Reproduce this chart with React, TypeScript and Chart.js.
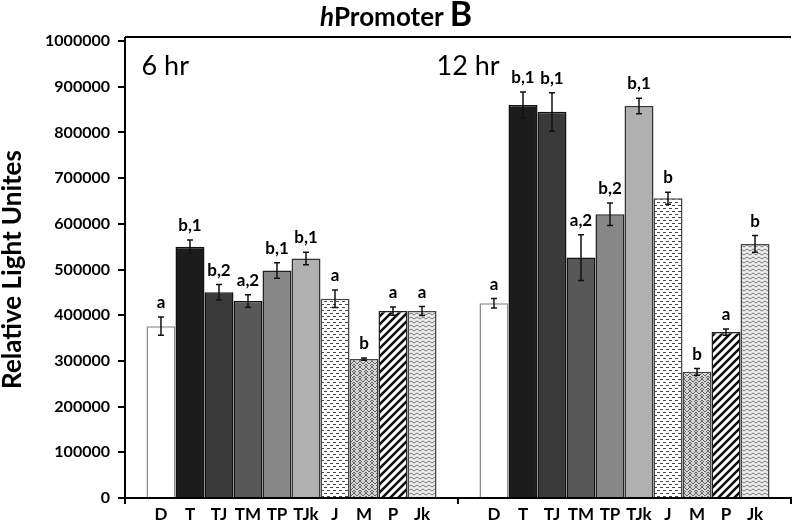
import React, { useEffect, useRef } from "react";
import { Chart, registerables } from "chart.js";

Chart.register(...registerables);

const categories = ["6 hr", "12 hr"];
const treatments = ["D", "T", "TJ", "TM", "TP", "TJk", "J", "M", "P", "Jk"];
const values6 = [376000, 550000, 450000, 431000, 498000, 524000, 436000, 304000, 409000, 409000];
const values12 = [426000, 860000, 845000, 526000, 621000, 858000, 656000, 276000, 363000, 556000];
const err6 = [20000, 14600, 17000, 13600, 17000, 13800, 19000, 2600, 9100, 9800];
const err12 = [10500, 28500, 42000, 50000, 24500, 17000, 13100, 7200, 6600, 18200];
const sig6 = ["a", "b,1", "b,2", "a,2", "b,1", "b,1", "a", "b", "a", "a"];
const sig12 = ["a", "b,1", "b,1", "a,2", "b,2", "b,1", "b", "b", "a", "b"];
const yTicks = [0, 100000, 200000, 300000, 400000, 500000, 600000, 700000, 800000, 900000, 1000000];

const FONT = "Lato, 'Open Sans', sans-serif";

function makePattern(kind: string): CanvasPattern | string {
  const c = document.createElement("canvas");
  const ctx = c.getContext("2d");
  if (!ctx) return "#999";
  if (kind === "J") {
    c.width = 6; c.height = 6;
    ctx.fillStyle = "#ffffff"; ctx.fillRect(0, 0, 6, 6);
    ctx.fillStyle = "#4a4a4a";
    ctx.fillRect(0, 1, 3, 1);
    ctx.fillRect(3, 4, 3, 1);
  } else if (kind === "M") {
    c.width = 6; c.height = 6;
    ctx.fillStyle = "#d4d4d4"; ctx.fillRect(0, 0, 6, 6);
    ctx.strokeStyle = "#666666"; ctx.lineWidth = 1;
    ctx.beginPath();
    ctx.moveTo(0, 1); ctx.lineTo(3, 4); ctx.lineTo(6, 1);
    ctx.moveTo(0, 4); ctx.lineTo(3, 7);
    ctx.moveTo(3, -2); ctx.lineTo(0, 1);
    ctx.moveTo(6, 4); ctx.lineTo(3, 7);
    ctx.moveTo(3, -2); ctx.lineTo(6, 1);
    ctx.stroke();
  } else if (kind === "P") {
    c.width = 8; c.height = 8;
    ctx.fillStyle = "#ffffff"; ctx.fillRect(0, 0, 8, 8);
    ctx.strokeStyle = "#111111"; ctx.lineWidth = 2.6;
    ctx.beginPath();
    ctx.moveTo(-2, 10); ctx.lineTo(10, -2);
    ctx.moveTo(-6, 6); ctx.lineTo(6, -6);
    ctx.moveTo(2, 14); ctx.lineTo(14, 2);
    ctx.stroke();
  } else if (kind === "Jk") {
    c.width = 6; c.height = 4;
    ctx.fillStyle = "#ececec"; ctx.fillRect(0, 0, 6, 4);
    ctx.strokeStyle = "#7a7a7a"; ctx.lineWidth = 1;
    ctx.beginPath();
    ctx.moveTo(0, 3); ctx.lineTo(3, 1); ctx.lineTo(6, 3);
    ctx.stroke();
  }
  const p = ctx.createPattern(c, "repeat");
  return p || "#999";
}

const annotatePlugin = {
  id: "annotate",
  afterDatasetsDraw(chart: any) {
    const ctx = chart.ctx;
    const yScale = chart.scales.y;
    const xScale = chart.scales.x;
    const area = chart.chartArea;
    ctx.save();
    ctx.strokeStyle = "#000";
    ctx.lineWidth = 2;
    ctx.beginPath();
    ctx.moveTo(area.left, area.top - 4);
    ctx.lineTo(area.right, area.top - 4);
    ctx.moveTo(area.left, area.top - 4);
    ctx.lineTo(area.left, area.top);
    ctx.stroke();

    chart.data.datasets.forEach((ds: any, i: number) => {
      const meta = chart.getDatasetMeta(i);
      meta.data.forEach((bar: any, j: number) => {
        const v = ds.data[j];
        const e = ds.errors[j];
        const yt = yScale.getPixelForValue(v + e);
        const yb = yScale.getPixelForValue(v - e);
        ctx.strokeStyle = "#111";
        ctx.lineWidth = 1.5;
        ctx.beginPath();
        ctx.moveTo(bar.x, yt); ctx.lineTo(bar.x, yb);
        ctx.moveTo(bar.x - 3, yt); ctx.lineTo(bar.x + 3, yt);
        ctx.moveTo(bar.x - 3, yb); ctx.lineTo(bar.x + 3, yb);
        ctx.stroke();
        ctx.fillStyle = "#000";
        ctx.font = `bold 17px ${FONT}`;
        ctx.textAlign = "center";
        ctx.textBaseline = "alphabetic";
        ctx.fillText(ds.sig[j], bar.x, yt - 9);
        ctx.font = `bold 17px ${FONT}`;
        ctx.textBaseline = "middle";
        ctx.fillText(ds.label, bar.x, area.bottom + 17);
      });
    });

    ctx.font = `27px ${FONT}`;
    ctx.textAlign = "left";
    ctx.textBaseline = "alphabetic";
    ctx.fillStyle = "#000";
    ctx.fillText(categories[0], xScale.getPixelForValue(0) - 150, 75);
    ctx.fillText(categories[1], xScale.getPixelForValue(1) - 188, 75);

    const w = chart.width;
    const p1 = "h", p2 = "Promoter", p3 = "B";
    ctx.font = `italic bold 26px ${FONT}`;
    const w1 = ctx.measureText(p1).width;
    ctx.font = `bold 26px ${FONT}`;
    const w2 = ctx.measureText(p2).width;
    ctx.font = `bold 34px ${FONT}`;
    const w3 = ctx.measureText(p3).width;
    const gap = 6;
    let x = w / 2 - (w1 + w2 + gap + w3) / 2;
    ctx.font = `italic bold 26px ${FONT}`;
    ctx.fillText(p1, x, 26); x += w1;
    ctx.font = `bold 26px ${FONT}`;
    ctx.fillText(p2, x, 26); x += w2 + gap;
    ctx.font = `bold 34px ${FONT}`;
    ctx.fillText(p3, x, 26);
    ctx.restore();
  },
};

export default function App() {
  const ref = useRef<HTMLCanvasElement | null>(null);
  useEffect(() => {
    if (!ref.current) return;
    const fills: any[] = [
      "#ffffff", "#1c1c1c", "#3a3a3a", "#585858", "#878787", "#b0b0b0",
      makePattern("J"), makePattern("M"), makePattern("P"), makePattern("Jk"),
    ];
    const borders = ["#8a8a8a", "#111", "#111", "#111", "#222", "#333", "#444", "#444", "#222", "#444"];
    const datasets = treatments.map((t, i) => ({
      label: t,
      data: [values6[i], values12[i]],
      errors: [err6[i], err12[i]],
      sig: [sig6[i], sig12[i]],
      backgroundColor: fills[i],
      borderColor: borders[i],
      borderWidth: 1.5,
      categoryPercentage: 0.871,
      barPercentage: 1.0,
    }));
    const chart = new Chart(ref.current, {
      type: "bar",
      data: { labels: categories, datasets } as any,
      plugins: [annotatePlugin],
      options: {
        responsive: false,
        animation: false,
        devicePixelRatio: 1,
        layout: { padding: { top: 41, right: 1, bottom: 0, left: 0 } },
        plugins: { legend: { display: false }, tooltip: { enabled: false }, title: { display: false } },
        scales: {
          x: {
            afterFit: (s: any) => { s.height = 28; },
            ticks: { display: false },
            grid: { display: true, drawOnChartArea: false, drawTicks: true, tickLength: 6, color: "#000", lineWidth: 2, offset: true },
            border: { display: true, color: "#000", width: 2 },
          },
          y: {
            min: 0,
            max: 1000000,
            afterFit: (s: any) => { s.width = 125; },
            afterBuildTicks: (s: any) => { s.ticks = yTicks.map((v) => ({ value: v })); },
            ticks: {
              color: "#000",
              padding: 8,
              font: { family: FONT, size: 16, weight: "bold" },
              callback: (v: any) => String(v),
            },
            grid: { display: true, drawOnChartArea: false, drawTicks: true, tickLength: 7, color: "#000", lineWidth: 2 },
            border: { display: true, color: "#000", width: 2 },
            title: {
              display: true,
              text: "Relative Light Unites",
              color: "#000",
              font: { family: FONT, size: 26, weight: "bold", lineHeight: 1 },
              padding: { top: 0, bottom: 0 },
            },
          },
        },
      } as any,
    });
    return () => chart.destroy();
  }, []);
  return (
    <div style={{ position: "fixed", left: 0, top: 0, width: 792, height: 526, background: "#fff" }}>
      <canvas ref={ref} width={792} height={526} style={{ width: 792, height: 526, display: "block" }} />
    </div>
  );
}
